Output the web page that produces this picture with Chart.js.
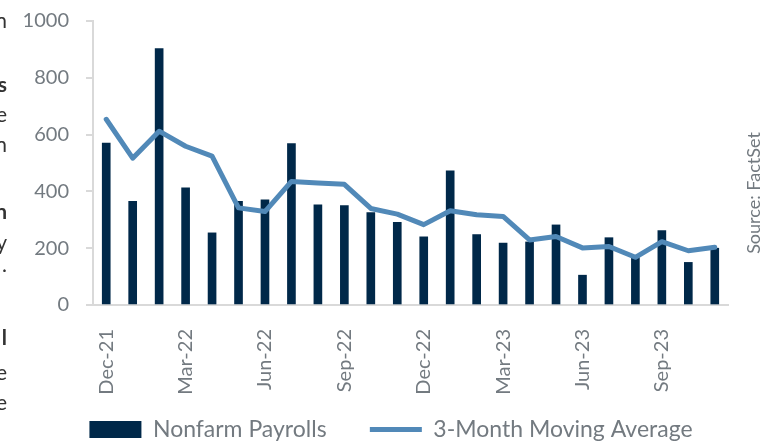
<!DOCTYPE html>
<html><head><meta charset="utf-8">
<script src="https://cdn.jsdelivr.net/npm/chart.js@4"></script>
<style>html,body{margin:0;padding:0;background:#fff}#wrap{width:760px;height:441px;position:relative}</style>
</head><body><div id="wrap"><canvas id="c"></canvas></div>
<script>
const categories = ["Dec-21","Jan-22","Feb-22","Mar-22","Apr-22","May-22","Jun-22","Jul-22","Aug-22","Sep-22","Oct-22","Nov-22","Dec-22","Jan-23","Feb-23","Mar-23","Apr-23","May-23","Jun-23","Jul-23","Aug-23","Sep-23","Oct-23","Nov-23"];
const nonfarmPayrolls = [570,365,903,413,254,365,370,568,353,350,325,291,240,472,248,218,222,282,105,237,167,262,150,200];
const movingAverage = [654,517,612,559,524,342,329,435,430,425,340,320,283,332,318,312,229,241,201,206,168,223,191,203];
const yTicks = [0,200,400,600,800,1000];
const seriesNames = ["Nonfarm Payrolls","3-Month Moving Average"];
const sourceText = "Source: FactSet";
const sideFragments = [["n",21,false],["s",85,true],["e",115,false],["n",145,false],["n",212,true],["y",243,false],[".",265,false],["l",338,true],["e",373,false],["e",403,false]];

const navy = "#002849", blue = "#5189b8", grey = "#737a80", axisGrey = "#d9d9d9";
const FONT = "Lato";

const extras = {
  id: "extras",
  afterLayout(chart) {
    const lg = chart.legend;
    if (lg) { lg.left += 27; lg.right += 27; lg.top += 10; lg.bottom += 10; }
  },
  afterDraw(chart) {
    const ctx = chart.ctx;
    ctx.save();
    ctx.fillStyle = grey;
    ctx.font = "18px " + FONT;
    ctx.translate(754, 193);
    ctx.rotate(-Math.PI/2);
    ctx.textAlign = "center";
    ctx.textBaseline = "middle";
    ctx.fillText(sourceText, 0, 0);
    ctx.restore();
    ctx.save();
    ctx.fillStyle = "#333";
    ctx.textBaseline = "middle";
    ctx.textAlign = "right";
    sideFragments.forEach(([t,y,b]) => {
      ctx.font = (b ? "bold " : "") + "21px " + FONT;
      ctx.fillText(t, 7, y);
    });
    ctx.restore();
  }
};

new Chart(document.getElementById("c"), {
  data: {
    labels: categories,
    datasets: [
      { type: "line", label: seriesNames[1], data: movingAverage, borderColor: blue, backgroundColor: blue,
        borderWidth: 5, pointRadius: 0, tension: 0, borderCapStyle: "round", borderJoinStyle: "round",
        pointStyle: "line", order: 0 },
      { type: "bar", label: seriesNames[0], data: nonfarmPayrolls, backgroundColor: navy, borderWidth: 0,
        barThickness: 8, pointStyle: "rect", order: 1 }
    ]
  },
  options: {
    responsive: true, maintainAspectRatio: false, animation: false,
    layout: { padding: { top: 21, right: 32, left: 0, bottom: 0 } },
    plugins: {
      tooltip: { enabled: false },
      legend: {
        position: "bottom", reverse: true,
        labels: {
          usePointStyle: true, pointStyleWidth: 52, boxHeight: 17, padding: 2,
          color: grey, font: { family: FONT, size: 23 },
          generateLabels: (chart) => {
            const items = Chart.defaults.plugins.legend.labels.generateLabels(chart);
            items.forEach(it => { if (it.text === seriesNames[0]) it.text = it.text + "       "; });
            return items;
          }
        }
      }
    },
    scales: {
      x: {
        afterFit: s => { s.height = 101; },
        grid: { display: false },
        border: { color: axisGrey, width: 2 },
        ticks: { autoSkip: false, minRotation: 90, maxRotation: 90, padding: 16, color: grey,
          font: { family: FONT, size: 20 },
          callback: (v, i) => (i % 3 === 0 ? categories[i] : "") }
      },
      y: {
        min: 0, max: 1000,
        afterFit: s => { s.width = 93; s.paddingTop = 0; s.paddingBottom = 0; },
        afterBuildTicks: s => { s.ticks = yTicks.map(v => ({ value: v })); },
        grid: { drawOnChartArea: false, tickLength: 7, color: axisGrey, lineWidth: 2 },
        border: { color: axisGrey, width: 2 },
        ticks: { padding: 17, color: grey, font: { family: FONT, size: 20 }, callback: v => String(v) }
      }
    }
  },
  plugins: [extras]
});
</script></body></html>
